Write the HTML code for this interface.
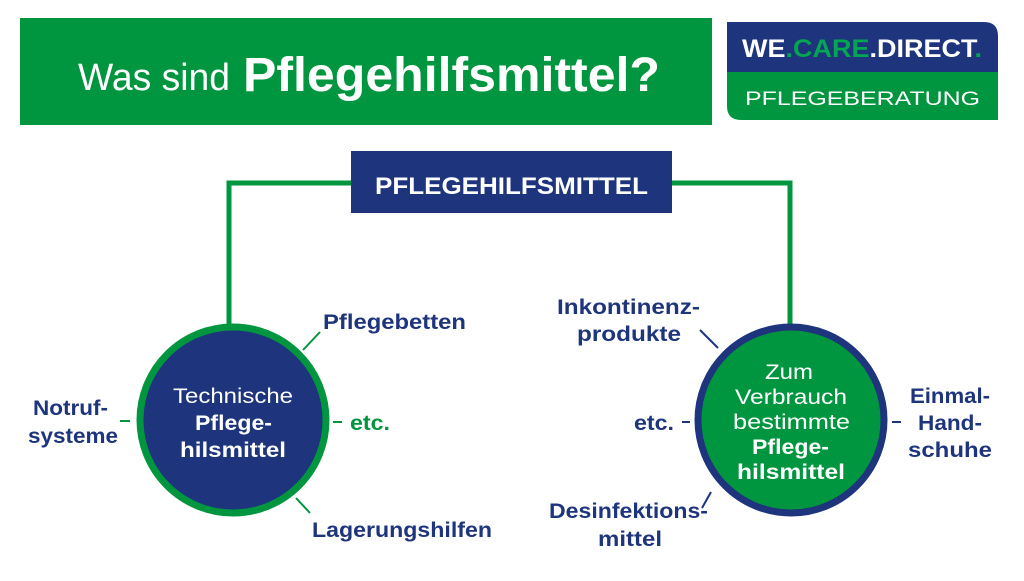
<!DOCTYPE html>
<html><head><meta charset="utf-8"><style>
body{margin:0;width:1024px;height:576px;background:#fff;overflow:hidden;font-family:"Liberation Sans",sans-serif}
</style></head><body>
<svg width="1024" height="576" viewBox="0 0 1024 576" xmlns="http://www.w3.org/2000/svg" font-family="Liberation Sans, sans-serif">
<rect x="20" y="18" width="692" height="107" fill="#009640"/>
<text x="78" y="90" font-size="38" fill="#fff" textLength="152" lengthAdjust="spacingAndGlyphs">Was sind</text>
<text x="243" y="91" font-size="48" font-weight="bold" fill="#fff" textLength="417" lengthAdjust="spacingAndGlyphs">Pflegehilfsmittel?</text>
<path d="M727 22 H984 Q998 22 998 36 V72 H727 Z" fill="#1e347c"/>
<path d="M727 72 H998 V120 H741 Q727 120 727 106 Z" fill="#009640"/>
<text x="742" y="57" font-size="25" font-weight="bold" fill="#fff" textLength="240" lengthAdjust="spacingAndGlyphs">WE<tspan fill="#00a651">.CARE</tspan>.DIRECT<tspan fill="#00a651">.</tspan></text>
<text x="745" y="105" font-size="19" fill="#fff" textLength="235" lengthAdjust="spacingAndGlyphs">PFLEGEBERATUNG</text>
<path d="M229 325 V183 H351 M672 183 H790 V325" fill="none" stroke="#009640" stroke-width="5"/>
<rect x="351" y="151" width="321" height="62" fill="#1e347c"/>
<text x="375" y="194" font-size="24" font-weight="bold" fill="#fff" textLength="273" lengthAdjust="spacingAndGlyphs">PFLEGEHILFSMITTEL</text>
<circle cx="233" cy="420" r="93" fill="#1e347c" stroke="#009640" stroke-width="7"/>
<circle cx="791" cy="420" r="93" fill="#009640" stroke="#1e347c" stroke-width="7"/>
<g fill="#fff" font-size="21">
<text x="173" y="403" textLength="120" lengthAdjust="spacingAndGlyphs">Technische</text>
<text x="195" y="430" font-weight="bold" textLength="77" lengthAdjust="spacingAndGlyphs">Pflege-</text>
<text x="180" y="457" font-weight="bold" textLength="106" lengthAdjust="spacingAndGlyphs">hilsmittel</text>
<text x="765" y="379" textLength="48" lengthAdjust="spacingAndGlyphs">Zum</text>
<text x="735" y="404" textLength="112" lengthAdjust="spacingAndGlyphs">Verbrauch</text>
<text x="733" y="429" textLength="117" lengthAdjust="spacingAndGlyphs">bestimmte</text>
<text x="752" y="454" font-weight="bold" textLength="77" lengthAdjust="spacingAndGlyphs">Pflege-</text>
<text x="737" y="479" font-weight="bold" textLength="108" lengthAdjust="spacingAndGlyphs">hilsmittel</text>
</g>
<g stroke="#009640" stroke-width="2">
<line x1="303" y1="350" x2="320" y2="332"/><line x1="333" y1="422" x2="342" y2="422"/>
<line x1="296" y1="498" x2="310" y2="513"/><line x1="120" y1="421" x2="130" y2="421"/>
</g>
<g stroke="#1e347c" stroke-width="2">
<line x1="700" y1="330" x2="718" y2="348"/><line x1="682" y1="422" x2="690" y2="422"/>
<line x1="711" y1="492" x2="702" y2="508"/><line x1="892" y1="422" x2="901" y2="422"/>
</g>
<g font-size="21" font-weight="bold" fill="#1e347c">
<text x="323" y="329" textLength="143" lengthAdjust="spacingAndGlyphs">Pflegebetten</text>
<text x="350" y="430" fill="#009640" textLength="40" lengthAdjust="spacingAndGlyphs">etc.</text>
<text x="312" y="537" textLength="180" lengthAdjust="spacingAndGlyphs">Lagerungshilfen</text>
<text x="33" y="415" textLength="75" lengthAdjust="spacingAndGlyphs">Notruf-</text>
<text x="28" y="443" textLength="90" lengthAdjust="spacingAndGlyphs">systeme</text>
<text x="557" y="314" textLength="143" lengthAdjust="spacingAndGlyphs">Inkontinenz-</text>
<text x="577" y="341" textLength="104" lengthAdjust="spacingAndGlyphs">produkte</text>
<text x="634" y="430" textLength="40" lengthAdjust="spacingAndGlyphs">etc.</text>
<text x="549" y="518" textLength="159" lengthAdjust="spacingAndGlyphs">Desinfektions-</text>
<text x="598" y="546" textLength="64" lengthAdjust="spacingAndGlyphs">mittel</text>
<text x="910" y="403" textLength="80" lengthAdjust="spacingAndGlyphs">Einmal-</text>
<text x="918" y="430" textLength="64" lengthAdjust="spacingAndGlyphs">Hand-</text>
<text x="908" y="457" textLength="84" lengthAdjust="spacingAndGlyphs">schuhe</text>
</g>
</svg>
</body></html>
